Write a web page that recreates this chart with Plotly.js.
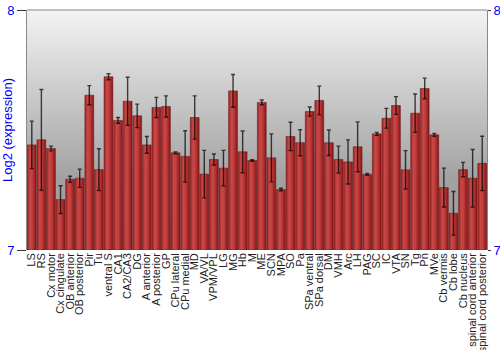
<!DOCTYPE html>
<html>
<head>
<meta charset="utf-8">
<script src="https://cdn.plot.ly/plotly-3.0.1.min.js"></script>
<style>
html,body{margin:0;padding:0;background:#fff;}
#chart{width:500px;height:350px;}
</style>
</head>
<body>
<div id="chart"></div>
<script>
var regions = ["LS","RS","Cx motor","Cx cingulate","OB anterior","OB posterior","Pir","Tu","ventral S","CA1","CA2/CA3","DG","A anterior","A posterior","GP","CPu lateral","CPu medial","MD","VA/VL","VPM/VPL","LG","MG","Hb","M","ME","SCN","MPA","SO","Pa","SPa ventral","SPa dorsal","DM","VMH","Arc","LH","PAG","SC","IC","VTA","SN","Tg","Pn","MVe","Cb vermis","Cb lobe","Cb nucleus","spinal cord anterior","spinal cord posterior"];
var expression = [7.438,7.459,7.423,7.210,7.295,7.299,7.645,7.335,7.722,7.540,7.620,7.559,7.438,7.594,7.598,7.405,7.390,7.552,7.316,7.377,7.341,7.663,7.409,7.373,7.615,7.384,7.252,7.473,7.447,7.577,7.623,7.447,7.377,7.367,7.430,7.315,7.484,7.549,7.602,7.334,7.570,7.673,7.480,7.260,7.153,7.335,7.299,7.361];
var errors = [0.099,0.21,0.01,0.058,0.0125,0.038,0.04,0.087,0.0125,0.012,0.10,0.049,0.035,0.042,0.044,0.004,0.107,0.09,0.099,0.023,0.074,0.068,0.087,0.003,0.01,0.10,0.005,0.059,0.054,0.019,0.06,0.053,0.056,0.092,0.104,0.004,0.006,0.041,0.037,0.08,0.08,0.043,0.006,0.081,0.091,0.03,0.12,0.113];
var yTicks = [7, 8];

var bgSvg = '<svg xmlns="http://www.w3.org/2000/svg" width="10" height="100" preserveAspectRatio="none"><defs><linearGradient id="g" x1="0" y1="0" x2="0" y2="1"><stop offset="0" stop-color="#f3f3f3"/><stop offset="0.7" stop-color="#a2a2a2"/><stop offset="1" stop-color="#999999"/></linearGradient></defs><rect width="10" height="100" fill="url(#g)"/></svg>';
var bgUri = 'data:image/svg+xml;base64,' + btoa(bgSvg);

var traces = [{
  type: 'bar',
  x: regions,
  y: expression.map(function(v){ return v - 7; }),
  base: 7,
  marker: {color: '#b53333', line: {color: 'rgba(110,20,20,0.9)', width: 0.6}},
  error_y: {type: 'data', array: errors, visible: true, color: 'rgba(0,0,0,0.72)', thickness: 1.4, width: 2},
  hoverinfo: 'x+y'
}, {
  type: 'scatter',
  x: [regions[0]],
  y: [7],
  yaxis: 'y2',
  mode: 'markers',
  marker: {opacity: 0},
  showlegend: false,
  hoverinfo: 'skip'
}];

var layout = {
  width: 500, height: 350,
  margin: {l: 27, r: 13, t: 10, b: 100, pad: 0},
  paper_bgcolor: '#ffffff',
  plot_bgcolor: 'rgba(0,0,0,0)',
  showlegend: false,
  bargap: 0.08,
  font: {family: 'Liberation Sans, Arial, sans-serif', size: 11, color: '#222'},
  images: [{source: bgUri, xref: 'paper', yref: 'paper', x: 0, y: 1, sizex: 1, sizey: 1, sizing: 'stretch', xanchor: 'left', yanchor: 'top', layer: 'below'}],
  xaxis: {
    type: 'category', tickmode: 'array', tickvals: regions, ticktext: regions,
    range: [-0.5, regions.length - 0.5], autorange: false,
    tickangle: -90, ticks: '', showgrid: false, zeroline: false,
    showline: false, tickfont: {size: 11, color: '#222'}, automargin: false
  },
  yaxis: {
    range: [7, 8], tickvals: yTicks, ticktext: yTicks.map(String), ticks: 'outside', ticklen: 9, tickcolor: '#333', tickwidth: 1,
    showgrid: false, zeroline: false, showline: true, linecolor: '#888', linewidth: 1,
    tickfont: {size: 13, color: '#0000ff'},
    title: {text: 'Log2 (expression)', font: {size: 13, color: '#0000ff'}},
    automargin: false
  },
  yaxis2: {
    range: [7, 8], tickvals: yTicks, ticktext: yTicks.map(String), overlaying: 'y', side: 'right', ticks: 'outside', ticklen: 3, tickcolor: '#333',
    showgrid: false, zeroline: false, showline: true, linecolor: '#888', linewidth: 1,
    tickfont: {size: 13, color: '#0000ff'}, automargin: false
  },
  shapes: [{type: 'line', xref: 'paper', yref: 'paper', x0: 0, x1: 1, y0: 1, y1: 1, line: {color: '#888', width: 1}}]
};

function styleBars(gd) {
  var svg = gd.querySelector('svg.main-svg');
  if (!svg) return;
  var defs = svg.querySelector('defs');
  if (!defs.querySelector('#barGrad')) {
    var ns = 'http://www.w3.org/2000/svg';
    var lg = document.createElementNS(ns, 'linearGradient');
    lg.setAttribute('id', 'barGrad');
    lg.setAttribute('x1', '0'); lg.setAttribute('y1', '0');
    lg.setAttribute('x2', '1'); lg.setAttribute('y2', '0');
    [['0', '#9a2222'], ['0.3', '#c84848'], ['0.55', '#c23e3e'], ['1', '#861515']].forEach(function(s){
      var st = document.createElementNS(ns, 'stop');
      st.setAttribute('offset', s[0]); st.setAttribute('stop-color', s[1]);
      lg.appendChild(st);
    });
    defs.appendChild(lg);
  }
  gd.querySelectorAll('.bars .point path').forEach(function(p){
    p.style.fill = 'url(#barGrad)';
  });
}

var gd = document.getElementById('chart');
Plotly.newPlot(gd, traces, layout, {displayModeBar: false, staticPlot: true}).then(function(){
  styleBars(gd);
  gd.on('plotly_afterplot', function(){ styleBars(gd); });
});
</script>
</body>
</html>
